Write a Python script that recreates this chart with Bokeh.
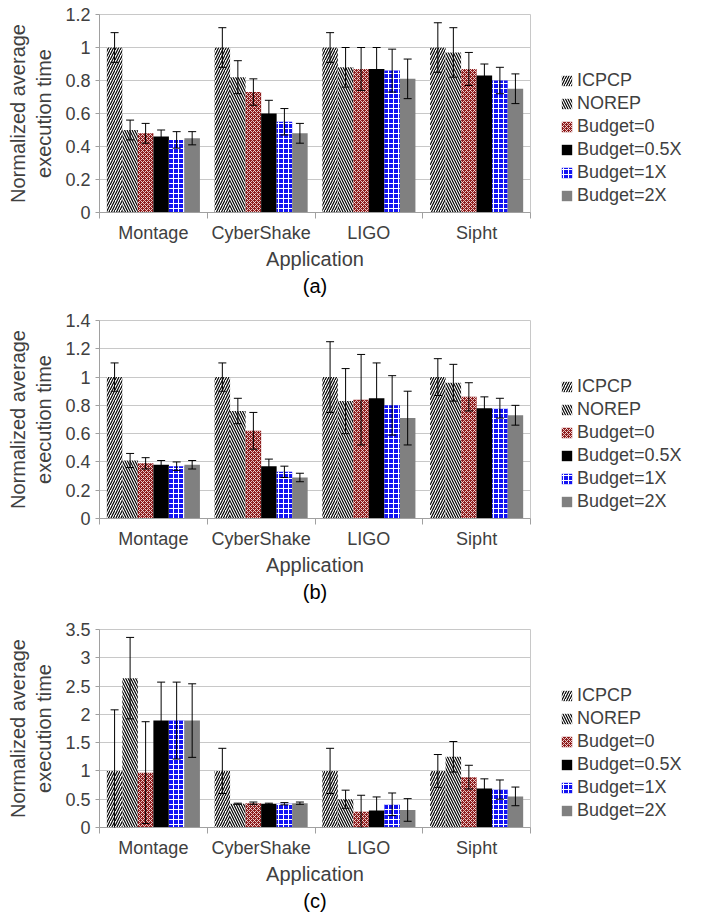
import numpy as np
from bokeh.plotting import figure
from bokeh.layouts import column
from bokeh.models import (ColumnDataSource, Range1d, FixedTicker, PrintfTickFormatter,
                          CustomJSTickFormatter, Whisker, TeeHead, Legend, LegendItem, Title)
from bokeh.embed import file_html
from bokeh.resources import INLINE

categories = ["Montage", "CyberShake", "LIGO", "Sipht"]
series = ["ICPCP", "NOREP", "Budget=0", "Budget=0.5X", "Budget=1X", "Budget=2X"]

# panel (a)
a_icpcp = [1.00, 1.00, 1.00, 1.00]
a_norep = [0.50, 0.82, 0.88, 0.97]
a_b0 = [0.48, 0.73, 0.87, 0.87]
a_b05 = [0.46, 0.60, 0.87, 0.83]
a_b1 = [0.44, 0.55, 0.86, 0.80]
a_b2 = [0.45, 0.48, 0.81, 0.75]
a_icpcp_err = [0.09, 0.12, 0.09, 0.15]
a_norep_err = [0.06, 0.10, 0.12, 0.15]
a_b0_err = [0.06, 0.08, 0.13, 0.10]
a_b05_err = [0.04, 0.08, 0.13, 0.07]
a_b1_err = [0.05, 0.08, 0.13, 0.08]
a_b2_err = [0.04, 0.06, 0.12, 0.09]
a_yticks = [0, 0.2, 0.4, 0.6, 0.8, 1.0, 1.2]

# panel (b)
b_icpcp = [1.00, 1.00, 1.00, 1.00]
b_norep = [0.41, 0.76, 0.83, 0.96]
b_b0 = [0.39, 0.62, 0.84, 0.86]
b_b05 = [0.38, 0.37, 0.85, 0.78]
b_b1 = [0.37, 0.33, 0.80, 0.78]
b_b2 = [0.38, 0.29, 0.71, 0.73]
b_icpcp_err = [0.10, 0.10, 0.25, 0.13]
b_norep_err = [0.05, 0.09, 0.23, 0.13]
b_b0_err = [0.04, 0.13, 0.32, 0.10]
b_b05_err = [0.03, 0.05, 0.25, 0.08]
b_b1_err = [0.03, 0.04, 0.21, 0.07]
b_b2_err = [0.03, 0.03, 0.19, 0.07]
b_yticks = [0, 0.2, 0.4, 0.6, 0.8, 1.0, 1.2, 1.4]

# panel (c)
c_icpcp = [1.00, 1.00, 1.00, 1.00]
c_norep = [2.64, 0.42, 0.50, 1.25]
c_b0 = [0.97, 0.43, 0.28, 0.89]
c_b05 = [1.89, 0.42, 0.30, 0.69]
c_b1 = [1.89, 0.42, 0.41, 0.67]
c_b2 = [1.89, 0.43, 0.31, 0.55]
c_icpcp_err = [1.08, 0.40, 0.40, 0.29]
c_norep_err = [0.72, 0.01, 0.16, 0.27]
c_b0_err = [0.90, 0.02, 0.29, 0.21]
c_b05_err = [0.68, 0.01, 0.24, 0.17]
c_b1_err = [0.68, 0.02, 0.20, 0.17]
c_b2_err = [0.65, 0.02, 0.20, 0.165]
c_yticks = [0, 0.5, 1.0, 1.5, 2.0, 2.5, 3.0, 3.5]

FONT = "Liberation Sans"
TXT = "#404040"
GRID = "#c8c8c8"

styles = [
    dict(fill_color="white", hatch_pattern="/", hatch_color="black", hatch_scale=5, hatch_weight=1.2),
    dict(fill_color="white", hatch_pattern="\\", hatch_color="black", hatch_scale=5, hatch_weight=1.2),
    dict(fill_color="#8e1c1c", hatch_pattern="x", hatch_color="#f4dede", hatch_scale=4, hatch_weight=0.9),
    dict(fill_color="black"),
    dict(fill_color="#1212f2", hatch_pattern="+", hatch_color="white", hatch_scale=5, hatch_weight=1.0),
    dict(fill_color="#808080"),
]

BAR_W = 0.144


def make_panel(vals, errs, yticks, tag, border_top, height):
    frame_h = 198
    border_bottom = height - border_top - frame_h
    p = figure(frame_width=431, frame_height=frame_h, output_backend="svg", toolbar_location=None,
               x_range=Range1d(0, len(categories)), y_range=Range1d(yticks[0], yticks[-1]),
               min_border_left=99, min_border_right=156, min_border_top=border_top,
               min_border_bottom=border_bottom)
    p.outline_line_color = GRID
    p.xgrid.grid_line_color = None
    p.ygrid.grid_line_color = GRID
    p.ygrid.ticker = FixedTicker(ticks=yticks)

    base = np.arange(len(categories)) + 0.5
    items = []
    for j, (name, v, e) in enumerate(zip(series, vals, errs)):
        v = np.array(v, dtype=float)
        e = np.array(e, dtype=float)
        src = ColumnDataSource(dict(x=base + (j - 2.5) * BAR_W, top=v, upper=v + e, lower=v - e))
        r = p.vbar(x="x", top="top", width=BAR_W, source=src, line_color=None, **styles[j])
        items.append(LegendItem(label=name, renderers=[r]))
        w = Whisker(base="x", upper="upper", lower="lower", source=src, line_color="black",
                    line_width=1, level="annotation",
                    upper_head=TeeHead(size=8, line_color="black", line_width=1),
                    lower_head=TeeHead(size=8, line_color="black", line_width=1))
        p.add_layout(w)

    xa = p.xaxis[0]
    xa.ticker = FixedTicker(ticks=list(base), minor_ticks=list(range(len(categories) + 1)))
    xa.formatter = CustomJSTickFormatter(args=dict(labels=categories),
                                         code="return labels[Math.floor(tick)];")
    xa.major_tick_line_color = None
    xa.major_tick_out = 0
    xa.minor_tick_out = 6
    xa.minor_tick_in = 0
    xa.minor_tick_line_color = "#a0a0a0"
    xa.axis_line_color = "#a0a0a0"
    xa.major_label_text_font = FONT
    xa.major_label_text_font_size = "18px"
    xa.major_label_text_color = TXT
    xa.major_label_standoff = 4
    xa.axis_label = "Application"
    xa.axis_label_text_font = FONT
    xa.axis_label_text_font_size = "20px"
    xa.axis_label_text_font_style = "normal"
    xa.axis_label_text_color = TXT
    xa.axis_label_standoff = 2

    ya = p.yaxis[0]
    ya.ticker = FixedTicker(ticks=yticks, minor_ticks=[])
    ya.formatter = PrintfTickFormatter(format="%g")
    ya.major_tick_out = 4
    ya.major_tick_in = 0
    ya.major_tick_line_color = "#a0a0a0"
    ya.minor_tick_line_color = None
    ya.axis_line_color = "#a0a0a0"
    ya.major_label_text_font = FONT
    ya.major_label_text_font_size = "18px"
    ya.major_label_text_color = TXT
    ya.major_label_standoff = 5
    ya.axis_label = "Normalized average\nexecution time"
    ya.axis_label_text_font = FONT
    ya.axis_label_text_font_size = "20px"
    ya.axis_label_text_font_style = "normal"
    ya.axis_label_text_color = TXT
    ya.axis_label_standoff = 7

    legend = Legend(items=items, location=(30, 6), orientation="vertical",
                    glyph_width=13, glyph_height=13, label_standoff=4, spacing=2,
                    label_height=20, padding=0, margin=0, border_line_color=None,
                    background_fill_alpha=0, label_text_font=FONT,
                    label_text_font_size="18px", label_text_color=TXT)
    p.add_layout(legend, "right")

    t = Title(text=tag, align="center", text_font=FONT, text_font_size="20px",
              text_font_style="normal", text_color="black", standoff=0)
    p.add_layout(t, "below")
    return p


pa = make_panel([a_icpcp, a_norep, a_b0, a_b05, a_b1, a_b2],
                [a_icpcp_err, a_norep_err, a_b0_err, a_b05_err, a_b1_err, a_b2_err],
                a_yticks, "(a)", 14, 300)
pb = make_panel([b_icpcp, b_norep, b_b0, b_b05, b_b1, b_b2],
                [b_icpcp_err, b_norep_err, b_b0_err, b_b05_err, b_b1_err, b_b2_err],
                b_yticks, "(b)", 20, 306)
pc = make_panel([c_icpcp, c_norep, c_b0, c_b05, c_b1, c_b2],
                [c_icpcp_err, c_norep_err, c_b0_err, c_b05_err, c_b1_err, c_b2_err],
                c_yticks, "(c)", 23, 306)

layout = column(pa, pb, pc, spacing=0)
open("out.html", "w").write(file_html(layout, INLINE))
